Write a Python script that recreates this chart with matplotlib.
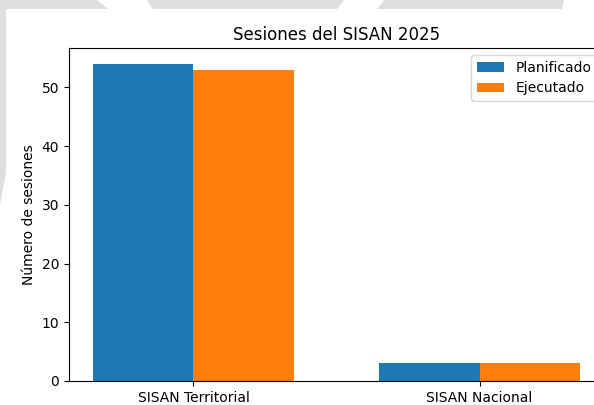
import matplotlib
matplotlib.use("Agg")
import matplotlib.pyplot as plt
from matplotlib.patches import Polygon
import numpy as np

# data
categorias = ["SISAN Territorial", "SISAN Nacional"]
planificado = [54, 3]
ejecutado = [53, 3]

W, H = 594, 405
dpi = 100
fig = plt.figure(figsize=(W / dpi, H / dpi), dpi=dpi)
fig.patch.set_facecolor("white")

# faint watermark shapes in the background (pixel coords, y from top)
gris = "#dedede"
def poly(pts):
    pts = [(x, H - y) for x, y in pts]
    fig.add_artist(Polygon(pts, closed=True, transform=None,
                           facecolor=gris, edgecolor="none", zorder=0))

poly([(0, 0), (97, 0), (108, 9), (0, 9)])
poly([(147, 0), (344, 0), (337, 9), (153, 9)])
poly([(384, 0), (564, 0), (562, 9), (377, 9)])
poly([(0, 9), (6, 9), (6, 172), (0, 205)])

# axes run a little past the right edge, as in the cropped original
ax = fig.add_axes([69 / W, 24 / H, (604 - 69) / W, (381 - 48) / H])

x = np.arange(len(categorias))
width = 0.35
ax.bar(x - width / 2, planificado, width, label="Planificado")
ax.bar(x + width / 2, ejecutado, width, label="Ejecutado")

ax.set_xticks(x)
ax.set_xticklabels(categorias)
ax.set_ylabel("Número de sesiones")
ax.set_title("Sesiones del SISAN 2025")
ax.legend()

fig.savefig("out.png", dpi=dpi)
